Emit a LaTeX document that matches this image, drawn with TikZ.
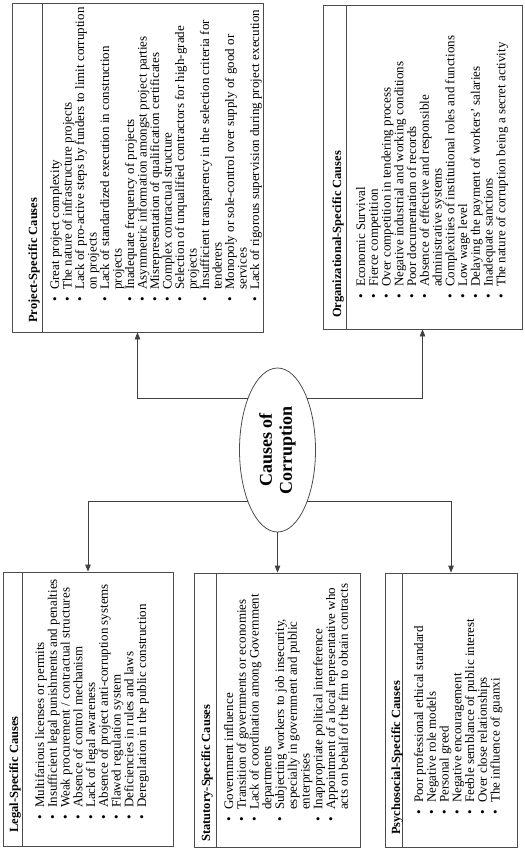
\documentclass[tikz,border=0pt]{standalone}
\usepackage{fontspec}
\setmainfont{Liberation Serif}
\usetikzlibrary{arrows.meta, shapes.geometric}

% bullet and hanging indent for the cause lists
\newcommand{\causeitem}{\makebox[12pt][l]{\textbullet}}
\newcommand{\causecont}{\hspace*{12pt}}

\begin{document}
\begin{tikzpicture}[
    x=1pt, y=-1pt,
    causebox/.style={draw=black!70, line width=0.8pt, inner sep=0pt},
    divider/.style={draw=black!70, line width=0.8pt},
    heading/.style={rotate=90, anchor=base west, inner sep=0pt,
        font=\bfseries\fontsize{12.5}{14}\selectfont},
    itemlist/.style={rotate=90, anchor=base west, inner sep=0pt,
        font=\fontsize{13}{12.75}\selectfont},
    hub/.style={ellipse, draw=black!70, line width=0.8pt, inner sep=0pt,
        minimum width=164pt, minimum height=76pt, align=center,
        font=\bfseries\fontsize{18}{20}\selectfont},
    link/.style={draw=black!75, line width=0.8pt, -{Triangle[length=7pt, width=5.5pt]}}
]
\useasboundingbox (0,0) rectangle (524,850);

% --- Central node (page is turned: text runs upwards) ---
\node[hub, rotate=90] (cause) at (277.5,450) {Causes of\\Corruption};

% --- Boxes ---
\node[causebox, minimum width=251pt, minimum height=329pt] (project) at (137.5,167.5) {};
\node[causebox, minimum width=199pt, minimum height=324pt] (org) at (422.5,167) {};
\node[causebox, minimum width=170pt, minimum height=274pt] (legal) at (88,709) {};
\node[causebox, minimum width=166pt, minimum height=274pt] (stat) at (277.5,710) {};
\node[causebox, minimum width=132pt, minimum height=274pt] (psycho) at (451,710) {};

% --- Title strips ---
\draw[divider] ([xshift=31pt]project.north west) -- ([xshift=31pt]project.south west);
\draw[divider] ([xshift=24pt]org.north west) -- ([xshift=24pt]org.south west);
\draw[divider] ([xshift=20pt]legal.north west) -- ([xshift=20pt]legal.south west);
\draw[divider] ([xshift=22pt]stat.north west) -- ([xshift=22pt]stat.south west);
\draw[divider] ([xshift=18pt]psycho.north west) -- ([xshift=18pt]psycho.south west);

\node[heading] (projecttitle) at (37,323) {Project-Specific Causes};
\node[heading] (orgtitle) at (341,318) {Organizational-Specific Causes};
\node[heading] (legaltitle) at (18,833) {Legal-Specific Causes};
\node[heading] (stattitle) at (210,842) {Statutory-Specific Causes};
\node[heading] (psychotitle) at (400,835) {Psychosocial-Specific Causes};

% --- Lists ---
\node[itemlist, font=\fontsize{13}{12.5}\selectfont] (projectlist) at (59,302) {\begin{minipage}[t]{300pt}
\causeitem Great project complexity\\
\causeitem The nature of infrastructure projects\\
\causeitem Lack of pro-active steps by funders to limit corruption\\
\causecont on projects\\
\causeitem Lack of standardized execution in construction\\
\causecont projects\\
\causeitem Inadequate frequency of projects\\
\causeitem Asymmetric information amongst project parties\\
\causeitem Misrepresentation of qualification certificates\\
\causeitem Complex contractual structure\\
\causeitem Selection of unqualified contractors for high-grade\\
\causecont projects\\
\causeitem Insufficient transparency in the selection criteria for\\
\causecont tenderers\\
\causeitem Monopoly or sole-control over supply of good or\\
\causecont services\\
\causeitem Lack of rigorous supervision during project execution
\end{minipage}};

\node[itemlist] (orglist) at (365,299) {\begin{minipage}[t]{300pt}
\causeitem Economic Survival\\
\causeitem Fierce competition\\
\causeitem Over competition in tendering process\\
\causeitem Negative industrial and working conditions\\
\causeitem Poor documentation of records\\
\causeitem Absence of effective and responsible\\
\causecont administrative systems\\
\causeitem Complexities of institutional roles and functions\\
\causeitem Low wage level\\
\causeitem Delaying the payment of workers' salaries\\
\causeitem Inadequate sanctions\\
\causeitem The nature of corruption being a secret activity
\end{minipage}};

\node[itemlist] (legallist) at (44,820) {\begin{minipage}[t]{300pt}
\causeitem Multifarious licenses or permits\\
\causeitem Insufficient legal punishments and penalties\\
\causeitem Weak procurement / contractual structures\\
\causeitem Absence of control mechanism\\
\causeitem Lack of legal awareness\\
\causeitem Absence of project anti-corruption systems\\
\causeitem Flawed regulation system\\
\causeitem Deficiencies in rules and laws\\
\causeitem Deregulation in the public construction
\end{minipage}};

\node[itemlist] (statlist) at (233,822) {\begin{minipage}[t]{300pt}
\causeitem Government influence\\
\causeitem Transition of governments or economies\\
\causeitem Lack of coordination among Government\\
\causecont departments\\
\causeitem Subjecting workers to job insecurity,\\
\causecont especially in government and public\\
\causecont enterprises\\
\causeitem Inappropriate political interference\\
\causeitem Appointment of a local representative who\\
\causecont acts on behalf of the fim to obtain contracts
\end{minipage}};

\node[itemlist] (psycholist) at (423,815) {\begin{minipage}[t]{300pt}
\causeitem Poor professional ethical standard\\
\causeitem Negative role models\\
\causeitem Personal greed\\
\causeitem Negative encouragement\\
\causeitem Feeble semblance of public interest\\
\causeitem Over close relationships\\
\causeitem The influence of guanxi
\end{minipage}};

% --- Connectors ---
\draw[link] (cause.30) -| (project.south);
\draw[link] (cause.-30) -| (org.south);
\draw[link] (cause.150) -| (legal.north);
\draw[link] (cause.210) -| (psycho.north);
\draw[link] (cause.west) -- (stat.north);

\end{tikzpicture}
\end{document}
